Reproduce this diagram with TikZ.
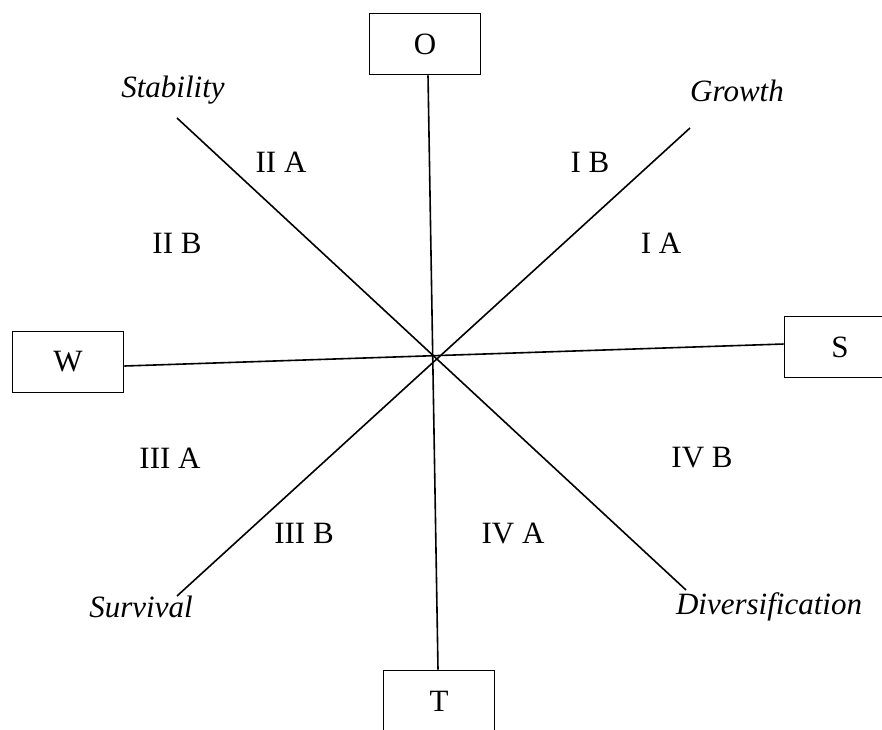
\documentclass[tikz,border=0pt]{standalone}
\usepackage{fontspec}
\setmainfont{Liberation Serif}
\usetikzlibrary{positioning}

\begin{document}
\begin{tikzpicture}[x=1pt, y=-1pt, line width=1.6pt,
		b/.style={draw, rectangle, minimum width=111pt, minimum height=61pt, inner sep=0pt, font=\fontsize{31}{37}\selectfont},
		q/.style={font=\fontsize{31}{37}\selectfont},
		s/.style={font=\fontsize{31}{37}\selectfont\itshape}]
		\useasboundingbox (0,0) rectangle (882,729);

		\node[b] (O) at (425,44) {O};
		\node[b] (W) at (68,362) {W};
		\node[b] (S) at (840,347) {S};
		\node[b] (T) at (439,701) {T};

		\node[s] (stab) at (173,90) {Stability};
		\node[s] (grow) at (737,91) {Growth};
		\node[s] (surv) at (141,607) {Survival};
		\node[s] (div) at (769,607) {Diversification};

		\node[q] (iia) at (281,162) {II A};
		\node[q] (ib) at (590,162) {I B};
		\node[q] (iib) at (177,243) {II B};
		\node[q] (ia) at (661,243) {I A};
		\node[q] (iiia) at (170,458) {III A};
		\node[q] (ivb) at (702,458) {IV B};
		\node[q] (iiib) at (304,533) {III B};
		\node[q] (iva) at (513,533) {IV A};

		\coordinate (st) at (177,118);
		\coordinate (dv) at (686,590);
		\coordinate (gr) at (690,128);
		\coordinate (su) at (177,596);

		\draw ([xshift=3pt]O.south) -- ([xshift=-1pt]T.north);
		\draw ([yshift=-4pt]W.east) -- ([yshift=3pt]S.west);
		\draw (st) -- (dv);
		\draw (gr) -- (su);
	\end{tikzpicture}
\end{document}
